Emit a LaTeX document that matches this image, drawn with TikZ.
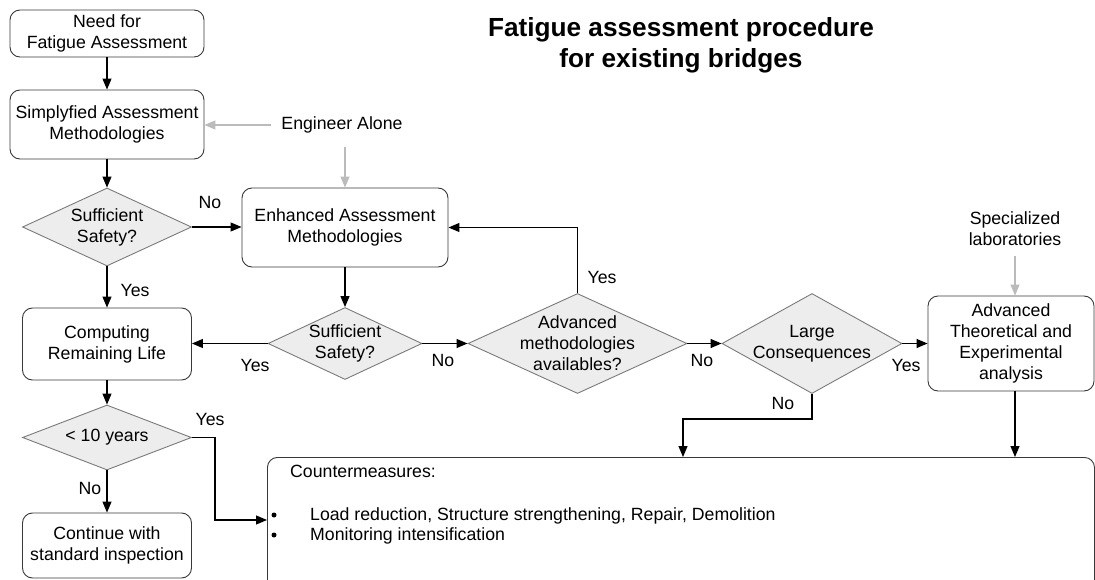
\documentclass[tikz,border=0pt]{standalone}
\usepackage{fontspec}
\setmainfont{Liberation Sans}
\usetikzlibrary{shapes.geometric,arrows.meta,calc}
\definecolor{boxc}{HTML}{383838}
\definecolor{diac}{HTML}{7A7A7A}
\definecolor{diaf}{HTML}{EDEDED}
\definecolor{grayc}{HTML}{BBBBBB}
\begin{document}
\begin{tikzpicture}[x=1pt,y=-1pt,
  every node/.style={font=\fontsize{17.7}{21}\selectfont, inner sep=0pt},
  box/.style={draw=boxc, line width=0.9pt, rounded corners=10pt, align=center},
  dia/.style={diamond, draw=diac, fill=diaf, line width=0.9pt},
  conn/.style={draw=black, line width=1.1pt, -{Triangle[length=11pt,width=9pt]}},
  gconn/.style={draw=grayc, line width=1.1pt, -{Triangle[length=11pt,width=9pt]}},
  bul/.style={circle, fill=black, minimum size=5pt}
]
\useasboundingbox (0,0) rectangle (1095,580);
\clip (0,0) rectangle (1095,580);

% title
\node[font=\fontsize{26.2}{31}\selectfont\bfseries, align=center] (title) at (681,45) {Fatigue assessment procedure\\for existing bridges};

% boxes and decisions
\node[box, minimum width=194pt, minimum height=47pt] (need) at (107,33.5) {Need for\\Fatigue Assessment};
\node[box, minimum width=194pt, minimum height=69pt] (simp) at (107,124.5) {Simplyfied Assessment\\Methodologies};
\node[dia, minimum width=169pt, minimum height=78pt, label={[align=center]center:Sufficient\\Safety?}] (d1) at (107,227) {};
\node[box, minimum width=206pt, minimum height=79pt] (enh) at (345,227.5) {Enhanced Assessment\\Methodologies};
\node[box, minimum width=169pt, minimum height=72pt] (comp) at (107,344) {Computing\\Remaining Life};
\node[dia, minimum width=154pt, minimum height=72pt, label={[align=center]center:Sufficient\\Safety?}] (d2) at (345,343.5) {};
\node[dia, minimum width=219pt, minimum height=100pt, label={[align=center]center:Advanced\\methodologies\\availables?}] (d3) at (577.5,343.5) {};
\node[dia, minimum width=180pt, minimum height=100pt, label={[align=center]center:Large\\Consequences}] (d4) at (812,343.5) {};
\node[box, minimum width=166pt, minimum height=95pt] (adv) at (1011,343.5) {Advanced\\Theoretical and\\Experimental\\analysis};
\node[dia, minimum width=169pt, minimum height=65pt, label={center:< 10 years}] (d5) at (107,437.5) {};
\node[box, minimum width=169pt, minimum height=65pt] (cont) at (107,545.5) {Continue with\\standard inspection};
\node[box, minimum width=827pt, minimum height=170pt, anchor=north west] (cm) at (267,457) {};

% countermeasures text
\node[anchor=base west] (cmt) at (290,477) {Countermeasures:};
\node[anchor=base west] (cm1) at (310,520) {Load reduction, Structure strengthening, Repair, Demolition};
\node[anchor=base west] (cm2) at (310,540) {Monitoring intensification};
\node[bul] (b1) at (274,515) {};
\node[bul] (b2) at (274,535) {};

% side texts
\node (eng) at (342,125) {Engineer Alone};
\node[align=center] (spec) at (1015,229) {Specialized\\laboratories};

% labels
\node (l1) at (210,202) {No};
\node (l2) at (135,290) {Yes};
\node (l3) at (255,365) {Yes};
\node (l4) at (443,360) {No};
\node (l5) at (602,277) {Yes};
\node (l6) at (702,360) {No};
\node (l7) at (906,365) {Yes};
\node (l8) at (783,403) {No};
\node (l9) at (210,419) {Yes};
\node (l10) at (90,488) {No};

% connectors
\draw[conn] (need.south) -- (simp.north);
\draw[conn] (simp.south) -- (d1.north);
\draw[conn] (d1.east) -- (d1.east -| enh.west);
\draw[conn] (d1.south) -- (comp.north);
\draw[conn] (enh.south) -- (d2.north);
\draw[conn] (d2.west) -- (d2.west -| comp.east);
\draw[conn] (d2.east) -- (d3.west);
\draw[conn] (d3.north) |- (enh.east);
\draw[conn] (d3.east) -- (d4.west);
\draw[conn] (d4.east) -- (d4.east -| adv.west);
\coordinate (nb) at (683,419);
\draw[conn] (d4.south) |- (nb) -- (nb |- cm.north);
\coordinate (ab) at (1015,391);
\draw[conn] (ab) -- (ab |- cm.north);
\draw[conn] (comp.south) -- (d5.north);
\draw[conn] (d5.south) -- (cont.north);
\coordinate (yb) at (215,520);
\draw[conn] (d5.east) -| (yb) -- (yb -| cm.west);

% gray arrows
\draw[gconn] ([xshift=-10pt]eng.west) -- (eng.west -| simp.east);
\draw[gconn] ([yshift=-14pt]eng.south -| enh.north) -- (enh.north);
\draw[gconn] ([yshift=-10pt]spec.south) -- (spec.south |- adv.north);
\end{tikzpicture}
\end{document}
